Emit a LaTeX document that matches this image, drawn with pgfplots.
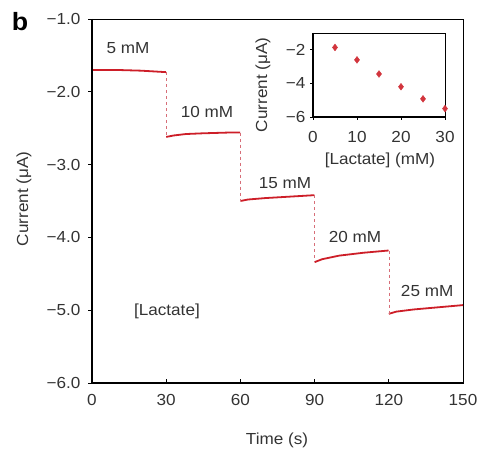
\documentclass[border=0pt]{standalone}
\usepackage{pgfplots}
\pgfplotsset{compat=1.18}
\usepackage{fontspec}
\setmainfont{Liberation Sans}[FakeStretch=1.07]
\definecolor{trace}{RGB}{205,30,40}
\definecolor{dashc}{RGB}{215,110,120}
\begin{document}
\begin{tikzpicture}
\path[use as bounding box] (0pt,0pt) rectangle (478pt,452pt);
\begin{axis}[
  at={(92pt,69pt)}, anchor=south west,
  scale only axis, width=371pt, height=364pt,
  xmin=0, xmax=150, ymin=-6, ymax=-1,
  xtick={0,30,60,90,120,150},
  ytick={-6,-5,-4,-3,-2,-1},
  yticklabels={−6.0,−5.0,−4.0,−3.0,−2.0,−1.0},
  /pgf/number format/assume math mode=true,
  tick label style={font=\fontsize{16}{18}\selectfont, text=black!80},
  xticklabel style={yshift=-8pt},
  yticklabel style={xshift=-4pt},
  axis line style={line width=0.8pt},
  tick style={black, line width=0.8pt},
  xtick align=inside, ytick align=outside,
  major tick length=4pt,
  xtick pos=bottom, ytick pos=left,
  clip=false,
]
\addplot[trace, line width=1.8pt] coordinates {(0,-1.70)(10,-1.70)(20,-1.71)(29.9,-1.73)};
\addplot[trace, line width=1.8pt] coordinates {(30,-2.62)(33,-2.60)(38,-2.58)(45,-2.57)(55,-2.56)(59.9,-2.56)};
\addplot[trace, line width=1.8pt] coordinates {(60,-3.50)(63,-3.48)(70,-3.46)(80,-3.44)(89.9,-3.42)};
\addplot[trace, line width=1.8pt] coordinates {(90,-4.34)(93,-4.30)(100,-4.25)(110,-4.21)(119.9,-4.18)};
\addplot[trace, line width=1.8pt] coordinates {(120,-5.05)(123,-5.02)(130,-4.99)(140,-4.96)(150,-4.93)};
\addplot[dashc, dashed, line width=0.6pt] coordinates {(30,-1.73)(30,-2.62)};
\addplot[dashc, dashed, line width=0.6pt] coordinates {(60,-2.56)(60,-3.50)};
\addplot[dashc, dashed, line width=0.6pt] coordinates {(90,-3.42)(90,-4.34)};
\addplot[dashc, dashed, line width=0.6pt] coordinates {(120,-4.18)(120,-5.05)};
\draw[line width=2.4pt] (rel axis cs:0,1) -- (rel axis cs:0,0) -- (rel axis cs:1,0);
\begin{scope}[every node/.style={font=\fontsize{16}{18}\selectfont, text=black!80}]
\node at (axis cs:14.6,-1.40) {5 mM};
\node at (axis cs:46.5,-2.28) {10 mM};
\node at (axis cs:78,-3.25) {15 mM};
\node at (axis cs:106.3,-4.00) {20 mM};
\node at (axis cs:135.5,-4.74) {25 mM};
\node at (axis cs:30.3,-5.01) {[Lactate]};
\end{scope}
\end{axis}
\node[font=\fontsize{16}{18}\selectfont, text=black!80] at (277pt,12pt) {Time (s)};
\node[font=\fontsize{16}{18}\selectfont, text=black!80, rotate=90] at (24pt,253pt) {Current (μA)};
\node[font=\fontsize{25}{27}\selectfont\bfseries] at (20pt,430pt) {b};
\begin{axis}[
  at={(313pt,335pt)}, anchor=south west,
  scale only axis, width=132pt, height=84pt,
  xmin=0, xmax=30, ymin=-6, ymax=-1,
  xtick={0,10,20,30}, ytick={-6,-4,-2},
  yticklabels={−6,−4,−2},
  /pgf/number format/assume math mode=true,
  tick label style={font=\fontsize{16}{18}\selectfont, text=black!80},
  xticklabel style={yshift=-8pt},
  yticklabel style={xshift=-1pt},
  axis line style={line width=0.8pt},
  tick style={black, line width=0.8pt},
  tick align=outside, major tick length=3pt,
  xtick pos=bottom, ytick pos=left,
  clip=false,
]
\addplot[only marks, mark=diamond*, mark size=3.4pt, color=trace!90] coordinates {(5,-1.86)(10,-2.6)(15,-3.44)(20,-4.2)(25,-4.92)(30,-5.5)};
\draw[line width=2.2pt] (rel axis cs:0,1) -- (rel axis cs:0,0) -- (rel axis cs:1,0);
\end{axis}
\node[font=\fontsize{16}{18}\selectfont, text=black!80] at (380pt,292pt) {[Lactate] (mM)};
\node[font=\fontsize{16}{18}\selectfont, text=black!80, rotate=90] at (263pt,367pt) {Current (μA)};
\end{tikzpicture}
\end{document}
